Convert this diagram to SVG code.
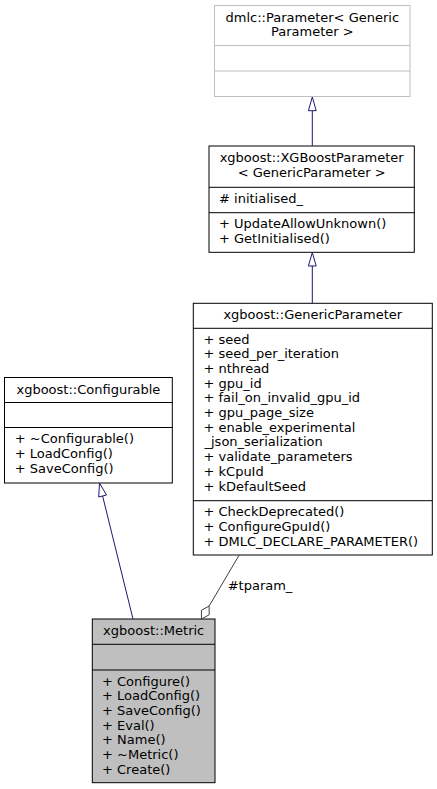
<svg xmlns="http://www.w3.org/2000/svg" width="437" height="789" viewBox="0 0 437 789">
<style>
text{font-family:"DejaVu Sans","Noto Sans",sans-serif;font-size:13px;fill:#000}
.c{text-anchor:middle}
.box{fill:#fff;stroke:#000;stroke-width:1}
.gbox{fill:#fff;stroke:#bfbfbf;stroke-width:1}
.sel{fill:#bfbfbf;stroke:#000;stroke-width:1}
.inh{stroke:#191970;stroke-width:1;fill:none}
.inhh{stroke:#191970;stroke-width:1;fill:#fff}
.use{stroke:#404040;stroke-width:1;fill:none}
.useh{stroke:#404040;stroke-width:1;fill:#fff}
</style>
<rect width="437" height="789" fill="#fff"/>
<g id="node-dmlc-parameter">
<rect class="gbox" x="214.5" y="5.5" width="195.5" height="91"/>
<line class="gbox" x1="214.5" y1="45.5" x2="410" y2="45.5"/>
<line class="gbox" x1="214.5" y1="71" x2="410" y2="71"/>
<text class="c" x="312.3" y="21.7">dmlc::Parameter&lt; Generic</text>
<text class="c" x="312.3" y="36.2">Parameter &gt;</text>
</g>
<g id="node-xgboostparameter">
<rect class="box" x="209" y="146" width="205.3" height="106.3"/>
<line class="box" x1="209" y1="187.3" x2="414.3" y2="187.3"/>
<line class="box" x1="209" y1="212.7" x2="414.3" y2="212.7"/>
<text class="c" x="311.7" y="162">xgboost::XGBoostParameter</text>
<text class="c" x="311.7" y="176.7">&lt; GenericParameter &gt;</text>
<text x="219" y="203">#  initialised_</text>
<text x="219" y="228.2">+  UpdateAllowUnknown()</text>
<text x="219" y="242.9">+  GetInitialised()</text>
</g>
<g id="node-genericparameter">
<rect class="box" x="193.3" y="303.3" width="239" height="251.7"/>
<line class="box" x1="193.3" y1="328.3" x2="432.3" y2="328.3"/>
<line class="box" x1="193.3" y1="500.7" x2="432.3" y2="500.7"/>
<text class="c" x="312.8" y="319.3">xgboost::GenericParameter</text>
<text x="203.5" y="343.5">+  seed</text>
<text x="203.5" y="358.2">+  seed_per_iteration</text>
<text x="203.5" y="372.9">+  nthread</text>
<text x="203.5" y="387.6">+  gpu_id</text>
<text x="203.5" y="402.3">+  fail_on_invalid_gpu_id</text>
<text x="203.5" y="417">+  gpu_page_size</text>
<text x="203.5" y="431.7">+  enable_experimental</text>
<text x="204.5" y="446.4">_json_serialization</text>
<text x="203.5" y="461.1">+  validate_parameters</text>
<text x="203.5" y="475.8">+  kCpuId</text>
<text x="203.5" y="490.5">+  kDefaultSeed</text>
<text x="203.5" y="516.2">+  CheckDeprecated()</text>
<text x="203.5" y="530.9">+  ConfigureGpuId()</text>
<text x="203.5" y="545.6">+  DMLC_DECLARE_PARAMETER()</text>
</g>
<g id="node-configurable">
<rect class="box" x="4.5" y="377.5" width="167.8" height="105.5"/>
<line class="box" x1="4.5" y1="402.5" x2="172.3" y2="402.5"/>
<line class="box" x1="4.5" y1="427.5" x2="172.3" y2="427.5"/>
<text class="c" x="88.4" y="393.5">xgboost::Configurable</text>
<text x="14.8" y="443.3">+  ~Configurable()</text>
<text x="14.8" y="458">+  LoadConfig()</text>
<text x="14.8" y="472.7">+  SaveConfig()</text>
</g>
<g id="node-metric">
<rect class="sel" x="92.3" y="619" width="122.7" height="163.7"/>
<line class="sel" x1="92.3" y1="644.3" x2="215" y2="644.3"/>
<line class="sel" x1="92.3" y1="670" x2="215" y2="670"/>
<text class="c" x="153.7" y="635">xgboost::Metric</text>
<text x="102" y="685.5">+  Configure()</text>
<text x="102" y="700.2">+  LoadConfig()</text>
<text x="102" y="714.9">+  SaveConfig()</text>
<text x="102" y="729.6">+  Eval()</text>
<text x="102" y="744.3">+  Name()</text>
<text x="102" y="759">+  ~Metric()</text>
<text x="102" y="773.7">+  Create()</text>
</g>
<g id="connectors">
<line class="inh" x1="312.3" y1="146" x2="312.3" y2="110.7"/>
<polygon class="inhh" points="312.3,97 316.2,110.7 308.4,110.7"/>
<line class="inh" x1="312.3" y1="303.3" x2="312.3" y2="266"/>
<polygon class="inhh" points="312.3,252.5 316.2,266 308.4,266"/>
<line class="inh" x1="133" y1="619" x2="102.6" y2="496"/>
<polygon class="inhh" points="99.5,483 106.5,495 98.7,497"/>
<line class="use" x1="239.2" y1="555" x2="209.1" y2="606.1"/>
<polygon class="useh" points="209.1,606.1 209.2,614.8 201.5,619 201.4,610.2"/>
<text x="227.7" y="590">#tparam_</text>
</g>
</svg>
